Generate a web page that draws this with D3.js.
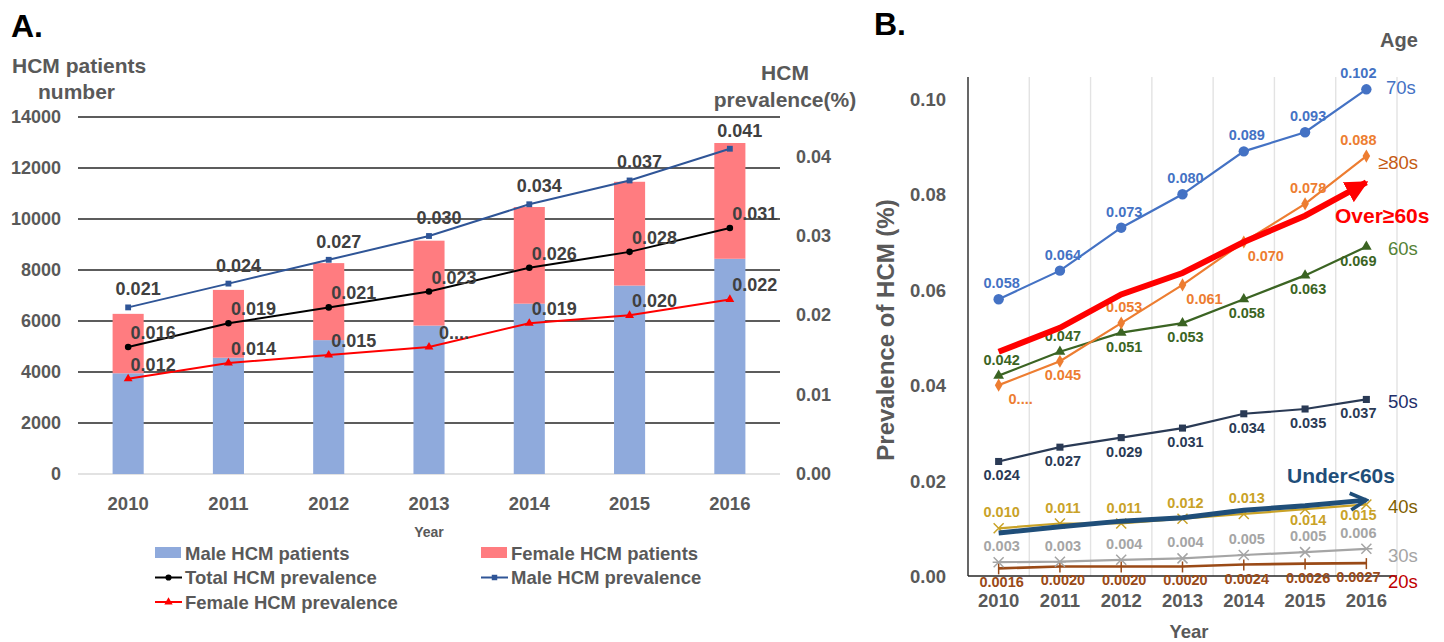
<!DOCTYPE html>
<html>
<head>
<meta charset="utf-8">
<script src="https://cdn.jsdelivr.net/npm/d3@7"></script>
<style>
  body { margin: 0; background: #fff; }
  svg { display: block; font-family: "Liberation Sans", Arial, sans-serif; }
</style>
</head>
<body>
<div id="chart"></div>
<script>
const WIDTH = 1444;
const HEIGHT = 642;

// === DATA: panel A ===
const yearsA = ["2010", "2011", "2012", "2013", "2014", "2015", "2016"];
const maleCount = [3950, 4560, 5250, 5820, 6680, 7390, 8440];
const femaleCount = [2330, 2660, 3020, 3330, 3790, 4070, 4540];
const totalPrev = [0.016, 0.019, 0.021, 0.023, 0.026, 0.028, 0.031];
const malePrev = [0.021, 0.024, 0.027, 0.030, 0.034, 0.037, 0.041];
const femalePrev = [0.012, 0.014, 0.015, 0.016, 0.019, 0.020, 0.022];
const femalePrevText = ["0.012", "0.014", "0.015", "0....", "0.019", "0.020", "0.022"];
const leftTicks = [0, 2000, 4000, 6000, 8000, 10000, 12000, 14000];
const rightTicks = [0, 0.01, 0.02, 0.03, 0.04];
const legendA = ["Male HCM patients", "Female HCM patients", "Total HCM prevalence",
                 "Male HCM prevalence", "Female HCM prevalence"];

// === DATA: panel B ===
const yearsB = ["2010", "2011", "2012", "2013", "2014", "2015", "2016"];
const age70 = [0.058, 0.064, 0.073, 0.080, 0.089, 0.093, 0.102];
const age80 = [0.040, 0.045, 0.053, 0.061, 0.070, 0.078, 0.088];
const age80Text = ["0....", "0.045", "0.053", "0.061", "0.070", "0.078", "0.088"];
const over60 = [0.047, 0.052, 0.059, 0.0635, 0.070, 0.0755, 0.0825];
const age60 = [0.042, 0.047, 0.051, 0.053, 0.058, 0.063, 0.069];
const age50 = [0.024, 0.027, 0.029, 0.031, 0.034, 0.035, 0.037];
const under60 = [0.009, 0.0103, 0.0115, 0.0122, 0.0138, 0.0147, 0.0159];
const age40 = [0.010, 0.011, 0.011, 0.012, 0.013, 0.014, 0.015];
const age30 = [0.003, 0.003, 0.004, 0.004, 0.005, 0.005, 0.006];
const age30Raw = [0.0029, 0.0030, 0.0034, 0.0037, 0.0044, 0.0050, 0.0057];
const age20 = [0.0016, 0.0020, 0.0020, 0.0020, 0.0024, 0.0026, 0.0027];
const ticksB = [0, 0.02, 0.04, 0.06, 0.08, 0.10];

const svg = d3.select("#chart").append("svg")
    .attr("width", WIDTH)
    .attr("height", HEIGHT);

const GREY = "#595959";
const DARK = "#404040";

// ================= PANEL A =================
const gA = svg.append("g");

const xA = d3.scaleBand().domain(yearsA).range([78, 780])
    .paddingInner(0.69).paddingOuter(0.345);
const yL = d3.scaleLinear().domain([0, 14000]).range([474, 117]);
const yR = d3.scaleLinear().domain([0, 0.045]).range([474, 117]);
const cx = d => xA(d) + xA.bandwidth() / 2;

gA.append("text").attr("x", 11).attr("y", 37).attr("font-size", 32)
    .attr("font-weight", "bold").attr("fill", "#000").text("A.");

// gridlines
gA.selectAll(".gridA").data(leftTicks).enter().append("line")
    .attr("x1", 78).attr("x2", 780)
    .attr("y1", d => yL(d)).attr("y2", d => yL(d))
    .attr("stroke", d => d === 0 ? "#d9d9d9" : "#262626")
    .attr("stroke-width", 1.4);

// left ticks
gA.selectAll(".tl").data(leftTicks).enter().append("text")
    .attr("x", 61).attr("y", d => yL(d) + 6)
    .attr("text-anchor", "end").attr("font-size", 18).attr("font-weight", "bold")
    .attr("fill", GREY).text(d => d);

// right ticks
gA.selectAll(".tr").data(rightTicks).enter().append("text")
    .attr("x", 796).attr("y", d => yR(d) + 6)
    .attr("font-size", 18).attr("font-weight", "bold")
    .attr("fill", GREY).text(d => d.toFixed(2));

// axis titles
gA.append("text").attr("x", 12).attr("y", 73).attr("font-size", 21)
    .attr("font-weight", "bold").attr("fill", GREY).text("HCM patients");
gA.append("text").attr("x", 38).attr("y", 99).attr("font-size", 21)
    .attr("font-weight", "bold").attr("fill", GREY).text("number");
gA.append("text").attr("x", 785).attr("y", 80).attr("text-anchor", "middle")
    .attr("font-size", 21).attr("font-weight", "bold").attr("fill", GREY).text("HCM");
gA.append("text").attr("x", 785).attr("y", 107).attr("text-anchor", "middle")
    .attr("font-size", 21).attr("font-weight", "bold").attr("fill", GREY).text("prevalence(%)");

// bars
gA.selectAll(".male").data(yearsA).enter().append("rect")
    .attr("x", d => xA(d)).attr("width", xA.bandwidth())
    .attr("y", (d, i) => yL(maleCount[i]))
    .attr("height", (d, i) => yL(0) - yL(maleCount[i]))
    .attr("fill", "#8FAADC");
gA.selectAll(".female").data(yearsA).enter().append("rect")
    .attr("x", d => xA(d)).attr("width", xA.bandwidth())
    .attr("y", (d, i) => yL(maleCount[i] + femaleCount[i]))
    .attr("height", (d, i) => yL(maleCount[i]) - yL(maleCount[i] + femaleCount[i]))
    .attr("fill", "#FF7C80");

// x ticks
gA.selectAll(".tx").data(yearsA).enter().append("text")
    .attr("x", d => cx(d)).attr("y", 510).attr("text-anchor", "middle")
    .attr("font-size", 18.5).attr("font-weight", "bold").attr("fill", GREY).text(d => d);
gA.append("text").attr("x", 429).attr("y", 537).attr("text-anchor", "middle")
    .attr("font-size", 14).attr("font-weight", "bold").attr("fill", GREY).text("Year");

const linesA = [
    { vals: malePrev, color: "#2F5597", marker: "square", text: malePrev.map(v => v.toFixed(3)), dx: 10, dy: -12 },
    { vals: totalPrev, color: "#000000", marker: "circle", text: totalPrev.map(v => v.toFixed(3)), dx: 25, dy: -8 },
    { vals: femalePrev, color: "#FF0000", marker: "triangle", text: femalePrevText, dx: 25, dy: -8 }
];

function markerPath(type, size) {
    const t = { circle: d3.symbolCircle, square: d3.symbolSquare, triangle: d3.symbolTriangle,
                diamond: d3.symbolDiamond }[type];
    return d3.symbol().type(t).size(size)();
}

linesA.forEach(s => {
    const line = d3.line().x((d, i) => cx(yearsA[i])).y(d => yR(d));
    gA.append("path").datum(s.vals).attr("d", line)
        .attr("fill", "none").attr("stroke", s.color).attr("stroke-width", 2);
    gA.selectAll(null).data(s.vals).enter().append("path")
        .attr("transform", (d, i) => `translate(${cx(yearsA[i])},${yR(d)})`)
        .attr("d", markerPath(s.marker, 34)).attr("fill", s.color);
    gA.selectAll(null).data(s.vals).enter().append("text")
        .attr("x", (d, i) => cx(yearsA[i]) + s.dx).attr("y", d => yR(d) + s.dy)
        .attr("text-anchor", "middle").attr("font-size", 18).attr("font-weight", "bold")
        .attr("fill", DARK).text((d, i) => s.text[i]);
});

// legend
const legA = gA.selectAll(".legA").data(legendA).enter().append("g")
    .attr("transform", (d, i) => `translate(${i % 2 === 0 ? 155 : 481},${553 + Math.floor(i / 2) * 24.5})`);
legA.each(function (d, i) {
    const g = d3.select(this);
    if (i < 2) {
        g.append("rect").attr("x", 0).attr("y", -6).attr("width", 26).attr("height", 11)
            .attr("fill", i === 0 ? "#8FAADC" : "#FF7C80");
    } else {
        const s = [null, null, linesA[1], linesA[0], linesA[2]][i];
        g.append("line").attr("x1", 0).attr("x2", 27).attr("stroke", s.color).attr("stroke-width", 2);
        g.append("path").attr("transform", "translate(13.5,0)")
            .attr("d", markerPath(s.marker, 30)).attr("fill", s.color);
    }
    g.append("text").attr("x", 30).attr("y", 6.5).attr("font-size", 18.5).attr("font-weight", "bold")
        .attr("fill", GREY).text(d);
});

// ================= PANEL B =================
const gB = svg.append("g");

const xB = d3.scaleBand().domain(yearsB).range([968, 1397]);
const yB = d3.scaleLinear().domain([0, 0.105]).range([576, 75]);
const bx = d => xB(d) + xB.bandwidth() / 2;

gB.append("text").attr("x", 874).attr("y", 35).attr("font-size", 32)
    .attr("font-weight", "bold").attr("fill", "#000").text("B.");

// vertical gridlines
gB.selectAll(".vg").data(yearsB).enter().append("line")
    .attr("x1", d => xB(d) + xB.step()).attr("x2", d => xB(d) + xB.step())
    .attr("y1", 77).attr("y2", 576).attr("stroke", "#e3e3e3").attr("stroke-width", 1.4);

// axes lines
gB.append("line").attr("x1", 968).attr("x2", 968).attr("y1", 77).attr("y2", 576)
    .attr("stroke", "#404040").attr("stroke-width", 1.6);
gB.append("line").attr("x1", 968).attr("x2", 1397).attr("y1", 576).attr("y2", 576)
    .attr("stroke", "#262626").attr("stroke-width", 1.6);

gB.selectAll(".tyb").data(ticksB).enter().append("text")
    .attr("x", 946).attr("y", d => yB(d) + 7).attr("text-anchor", "end")
    .attr("font-size", 18.5).attr("font-weight", "bold").attr("fill", GREY).text(d => d.toFixed(2));
gB.selectAll(".txb").data(yearsB).enter().append("text")
    .attr("x", d => bx(d)).attr("y", 607).attr("text-anchor", "middle")
    .attr("font-size", 18.5).attr("font-weight", "bold").attr("fill", GREY).text(d => d);
gB.append("text").attr("x", 1189).attr("y", 638).attr("text-anchor", "middle")
    .attr("font-size", 18.5).attr("font-weight", "bold").attr("fill", GREY).text("Year");
gB.append("text").attr("transform", "translate(894,330) rotate(-90)").attr("text-anchor", "middle")
    .attr("font-size", 24).attr("font-weight", "bold").attr("fill", GREY).text("Prevalence of HCM (%)");
gB.append("text").attr("x", 1380).attr("y", 47).attr("font-size", 20)
    .attr("font-weight", "bold").attr("fill", GREY).text("Age");

const lineB = d3.line().x((d, i) => bx(yearsB[i])).y(d => yB(d));

// thick trend arrows
const defs = gB.append("defs");
defs.append("marker").attr("id", "redArrow")
    .attr("viewBox", "0 0 10 10").attr("refX", 9).attr("refY", 5)
    .attr("markerWidth", 3.8).attr("markerHeight", 3.8).attr("orient", "auto")
    .attr("markerUnits", "strokeWidth")
    .append("path").attr("d", "M0,0 L10,5 L0,10 Z").attr("fill", "#FF0000");
defs.append("marker").attr("id", "blueArrow")
    .attr("viewBox", "0 0 10 10").attr("refX", 8.6).attr("refY", 5)
    .attr("markerWidth", 4.2).attr("markerHeight", 4.2).attr("orient", "auto")
    .append("path").attr("d", "M1,1 L8.5,5 L1,9").attr("fill", "none")
    .attr("stroke", "#1F4E79").attr("stroke-width", 1.7).attr("stroke-linejoin", "miter");

// series: label placement (a = above, b = below, br = below right)
const seriesB = [
    { vals: age20, color: "#9A4A17", marker: "tick", w: 2.6, below: 19, text: age20.map(v => v.toFixed(4)), pos: ["b", "b", "b", "b", "b", "b", "b"] },
    { vals: age30Raw, color: "#A5A5A5", marker: "asterisk", w: 2.2, below: 19, text: age30.map(v => v.toFixed(3)), pos: ["a", "a", "a", "a", "a", "a", "a"] },
    { vals: age40, color: "#C9A227", marker: "x", w: 2.2, below: 16, text: age40.map(v => v.toFixed(3)), pos: ["a", "a", "a", "a", "a", "b", "b"] },
    { vals: age50, color: "#2A3A55", marker: "square", w: 2.2, below: 19, text: age50.map(v => v.toFixed(3)), pos: ["b", "b", "b", "b", "b", "b", "b"] },
    { vals: age60, color: "#3B6423", marker: "triangle", w: 2.2, below: 19, text: age60.map(v => v.toFixed(3)), pos: ["a", "a", "b", "b", "b", "b", "b"] },
    { vals: age80, color: "#ED7D31", marker: "diamond", w: 2.2, below: 19, text: age80Text, pos: ["br", "b", "a", "br", "br", "a", "a"] },
    { vals: age70, color: "#4472C4", marker: "circle", w: 2.2, below: 19, text: age70.map(v => v.toFixed(3)), pos: ["a", "a", "a", "a", "a", "a", "a"] }
];

function drawMarker(g, type, color, x, y) {
    if (type === "tick") {
        g.append("line").attr("x1", x).attr("x2", x).attr("y1", y - 5).attr("y2", y + 6)
            .attr("stroke", color).attr("stroke-width", 1.5);
    } else if (type === "x") {
        g.append("path").attr("d", `M${x - 5},${y - 5}L${x + 5},${y + 5}M${x - 5},${y + 5}L${x + 5},${y - 5}`)
            .attr("stroke", color).attr("stroke-width", 1.5);
    } else if (type === "asterisk") {
        g.append("path").attr("d", `M${x - 5},${y - 5}L${x + 5},${y + 5}M${x - 5},${y + 5}L${x + 5},${y - 5}M${x - 6},${y}L${x + 6},${y}`)
            .attr("stroke", color).attr("stroke-width", 1.5);
    } else {
        g.append("path").attr("transform", `translate(${x},${y})`)
            .attr("d", markerPath(type, type === "circle" ? 85 : 50)).attr("fill", color);
    }
}

seriesB.forEach(s => {
    const g = gB.append("g");
    g.append("path").datum(s.vals).attr("d", lineB).attr("fill", "none")
        .attr("stroke", s.color).attr("stroke-width", s.w);
    s.vals.forEach((v, i) => drawMarker(g, s.marker, s.color, bx(yearsB[i]), yB(v)));
    s.vals.forEach((v, i) => {
        const p = s.pos[i];
        const dx = p === "br" ? 22 : (i === 6 ? -8 : 3);
        const dy = p === "a" ? -11 : s.below;
        g.append("text").attr("x", bx(yearsB[i]) + dx).attr("y", yB(v) + dy)
            .attr("text-anchor", "middle").attr("font-size", 14.5).attr("font-weight", "bold")
            .attr("fill", s.color).text(s.text[i]);
    });
});

gB.append("path").datum(under60).attr("d", lineB).attr("fill", "none")
    .attr("stroke", "#1F4E79").attr("stroke-width", 5).attr("marker-end", "url(#blueArrow)");
gB.append("path").datum(over60).attr("d", lineB).attr("fill", "none")
    .attr("stroke", "#FF0000").attr("stroke-width", 6).attr("marker-end", "url(#redArrow)");

// right-hand series names
const names = [
    { t: "70s", v: 0.1025, c: "#4472C4", b: false, x: 1386 },
    { t: "≥80s", v: 0.0868, c: "#C55A11", b: false, x: 1378 },
    { t: "Over≥60s", v: 0.0755, c: "#FF0000", b: true, x: 1335 },
    { t: "60s", v: 0.0688, c: "#548235", b: false, x: 1388 },
    { t: "50s", v: 0.0367, c: "#1F2F6B", b: false, x: 1388 },
    { t: "Under<60s", v: 0.0209, c: "#1F4E79", b: true, x: 1287 },
    { t: "40s", v: 0.0146, c: "#7F6000", b: false, x: 1388 },
    { t: "30s", v: 0.0045, c: "#A5A5A5", b: false, x: 1388 },
    { t: "20s", v: -0.001, c: "#C00000", b: false, x: 1388 }
];
gB.selectAll(".nm").data(names).enter().append("text")
    .attr("x", d => d.x).attr("y", d => yB(d.v) + 7)
    .attr("font-size", d => d.b ? 21 : 18.5).attr("font-weight", d => d.b ? "bold" : "normal")
    .attr("fill", d => d.c).text(d => d.t);
</script>
</body>
</html>
